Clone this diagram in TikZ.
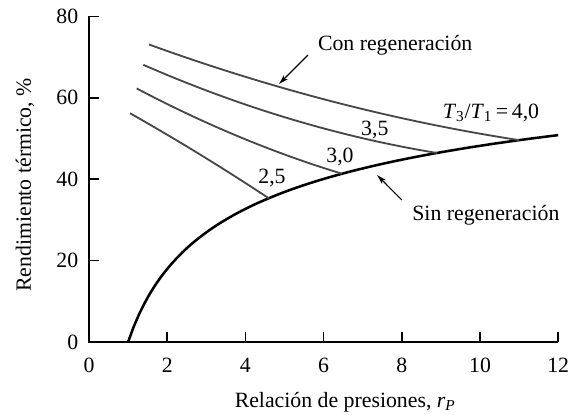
\documentclass[tikz,border=0pt]{standalone}
\usepackage{fontspec}
\setmainfont{Liberation Serif}
\usepackage{tikz}
\usetikzlibrary{arrows.meta}

\begin{document}
\begin{tikzpicture}[x=0.9775cm,y=0.10175cm,
	every node/.style={font=\rmfamily\fontsize{15.5}{18}\selectfont},
	regen/.style={line width=1.3pt,black!72},
	pointer/.style={line width=0.8pt,-{Stealth[length=7pt,width=4pt]}}]
	\useasboundingbox (-2.225cm,-1.8cm) rectangle (12.125cm,8.55cm);
	
	%axes
	\draw[line width=1.1pt] (0,80)--(0,0)--(12,0);
	\foreach \y in {20,40,60,80}
		\draw[line width=1.1pt] (0,\y)--(0.256,\y);
	\foreach \x in {2,4,...,12}
		\draw[line width=1.1pt] (\x,0)--(\x,2.5);
	
	%tick labels
	\foreach \y in {0,20,...,80}
		\node[anchor=east,inner sep=0] (ylab\y) at (-0.27,\y) {\y};
	\foreach \x in {0,2,...,12}
		\node (xlab\x) at (\x,-5.7) {\x};
	
	%axis labels
	\node (xtitle) at (6.55,-14.8) {Relación de presiones, \textit{r}\textsubscript{\textit{P}}};
	\node[rotate=90] (ytitle) at (-1.64,38.6) {Rendimiento térmico, \%};
	
	%sin regeneracion
	\draw[line width=1.8pt] plot[domain=1:12,samples=80] (\x,{100*(1-1/(\x^0.2857))});
	
	%con regeneracion
	\draw[regen] plot[domain=1.535:11.0,samples=40] (\x,{78.69-3.804*\x+0.1054*\x*\x});
	\draw[regen] plot[domain=1.39:8.9,samples=40] (\x,{74.26-4.672*\x+0.1738*\x*\x});
	\draw[regen] plot[domain=1.22:6.47,samples=40] (\x,{68.78-5.563*\x+0.2045*\x*\x});
	\draw[regen] plot[domain=1.05:4.6,samples=40] (\x,{61.76-5.159*\x-0.1288*\x*\x});
	
	%curve labels
	\node (ratio40) at (10.28,56.3) {\textit{T}\textsubscript{3}/\textit{T}\textsubscript{1}\,=\,4,0};
	\node (ratio35) at (7.31,52.1) {3,5};
	\node (ratio30) at (6.42,45.5) {3,0};
	\node (ratio25) at (4.68,40.3) {2,5};
	
	%callouts
	\node[anchor=west] (conlab) at (5.73,73.0) {Con regeneración};
	\coordinate (contail) at (5.60,70.5);
	\coordinate (contip) at (4.86,63.4);
	\draw[pointer] (contail)--(contip);
	%
	\node (sinlab) at (10.15,31.2) {Sin regeneración};
	\coordinate (sintail) at (8.0,34.9);
	\coordinate (sintip) at (7.37,41.0);
	\draw[pointer] (sintail)--(sintip);
\end{tikzpicture}
\end{document}
